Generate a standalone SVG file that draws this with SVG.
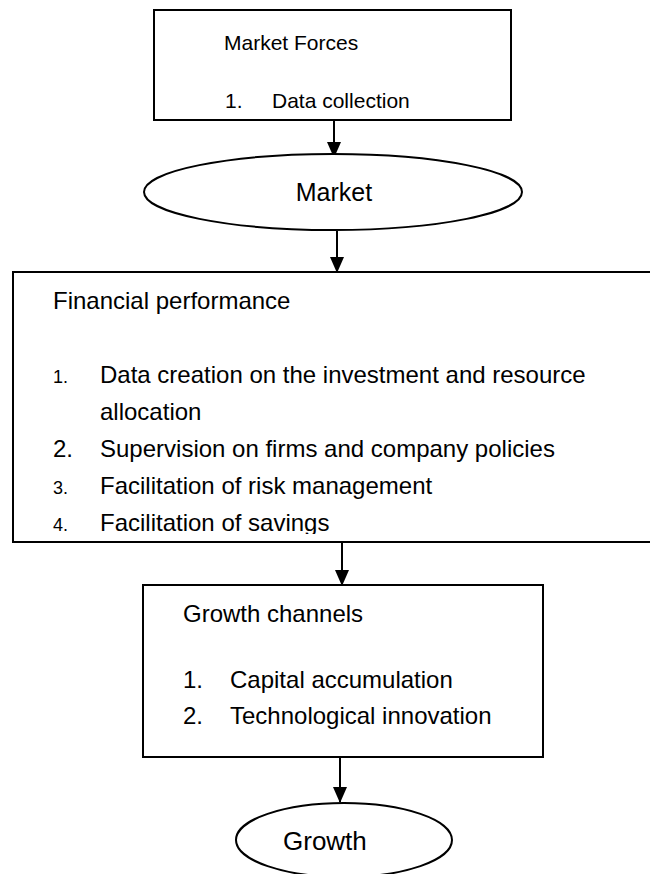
<svg xmlns="http://www.w3.org/2000/svg" width="650" height="874" viewBox="0 0 650 874">
<style>
.box{fill:#fff;stroke:#000;stroke-width:2}
.t{font-family:"Liberation Sans",Arial,sans-serif;fill:#000}
.conn{stroke:#000;stroke-width:2;fill:none}
</style>
<defs>
<marker id="ah" markerWidth="16" markerHeight="14" refX="15" refY="7" orient="auto" markerUnits="userSpaceOnUse">
<path d="M0,0 L16,7 L0,14 Z" fill="#000"/>
</marker>
<clipPath id="clip3"><rect x="0" y="272" width="650" height="262"/></clipPath>
</defs>
<rect width="650" height="874" fill="#fff"/>
<g id="connectors">
<line class="conn" x1="334" y1="121" x2="334" y2="157" marker-end="url(#ah)"/>
<line class="conn" x1="337" y1="231" x2="337" y2="272" marker-end="url(#ah)"/>
<line class="conn" x1="342" y1="542" x2="342" y2="585" marker-end="url(#ah)"/>
<line class="conn" x1="340" y1="757" x2="340" y2="802" marker-end="url(#ah)"/>
</g>
<g id="market-forces">
<rect class="box" x="154" y="10" width="357" height="110"/>
<text class="t" x="224" y="50" font-size="21">Market Forces</text>
<text class="t" x="225" y="108" font-size="21">1.</text>
<text class="t" x="272" y="108" font-size="21">Data collection</text>
</g>
<g id="market">
<ellipse class="box" cx="333" cy="192" rx="189" ry="38"/>
<text class="t" x="334" y="201" font-size="25" text-anchor="middle">Market</text>
</g>
<g id="financial-performance">
<rect class="box" x="13" y="272" width="700" height="270"/>
<g clip-path="url(#clip3)">
<text class="t" x="53" y="309" font-size="24">Financial performance</text>
<text class="t" x="53" y="383" font-size="18">1.</text>
<text class="t" x="100" y="383" font-size="24">Data creation on the investment and resource</text>
<text class="t" x="100" y="420" font-size="24">allocation</text>
<text class="t" x="53" y="457" font-size="24">2.</text>
<text class="t" x="100" y="457" font-size="24">Supervision on firms and company policies</text>
<text class="t" x="53" y="494" font-size="18">3.</text>
<text class="t" x="100" y="494" font-size="24">Facilitation of risk management</text>
<text class="t" x="53" y="531" font-size="18">4.</text>
<text class="t" x="100" y="531" font-size="24">Facilitation of savings</text>
</g>
</g>
<g id="growth-channels">
<rect class="box" x="143" y="585" width="400" height="172"/>
<text class="t" x="183" y="622" font-size="24">Growth channels</text>
<text class="t" x="183" y="688" font-size="24">1.</text>
<text class="t" x="230" y="688" font-size="24">Capital accumulation</text>
<text class="t" x="183" y="724" font-size="24">2.</text>
<text class="t" x="230" y="724" font-size="24">Technological innovation</text>
</g>
<g id="growth">
<ellipse class="box" cx="344" cy="840" rx="108" ry="37"/>
<text class="t" x="283" y="850" font-size="26">Growth</text>
</g>
</svg>
